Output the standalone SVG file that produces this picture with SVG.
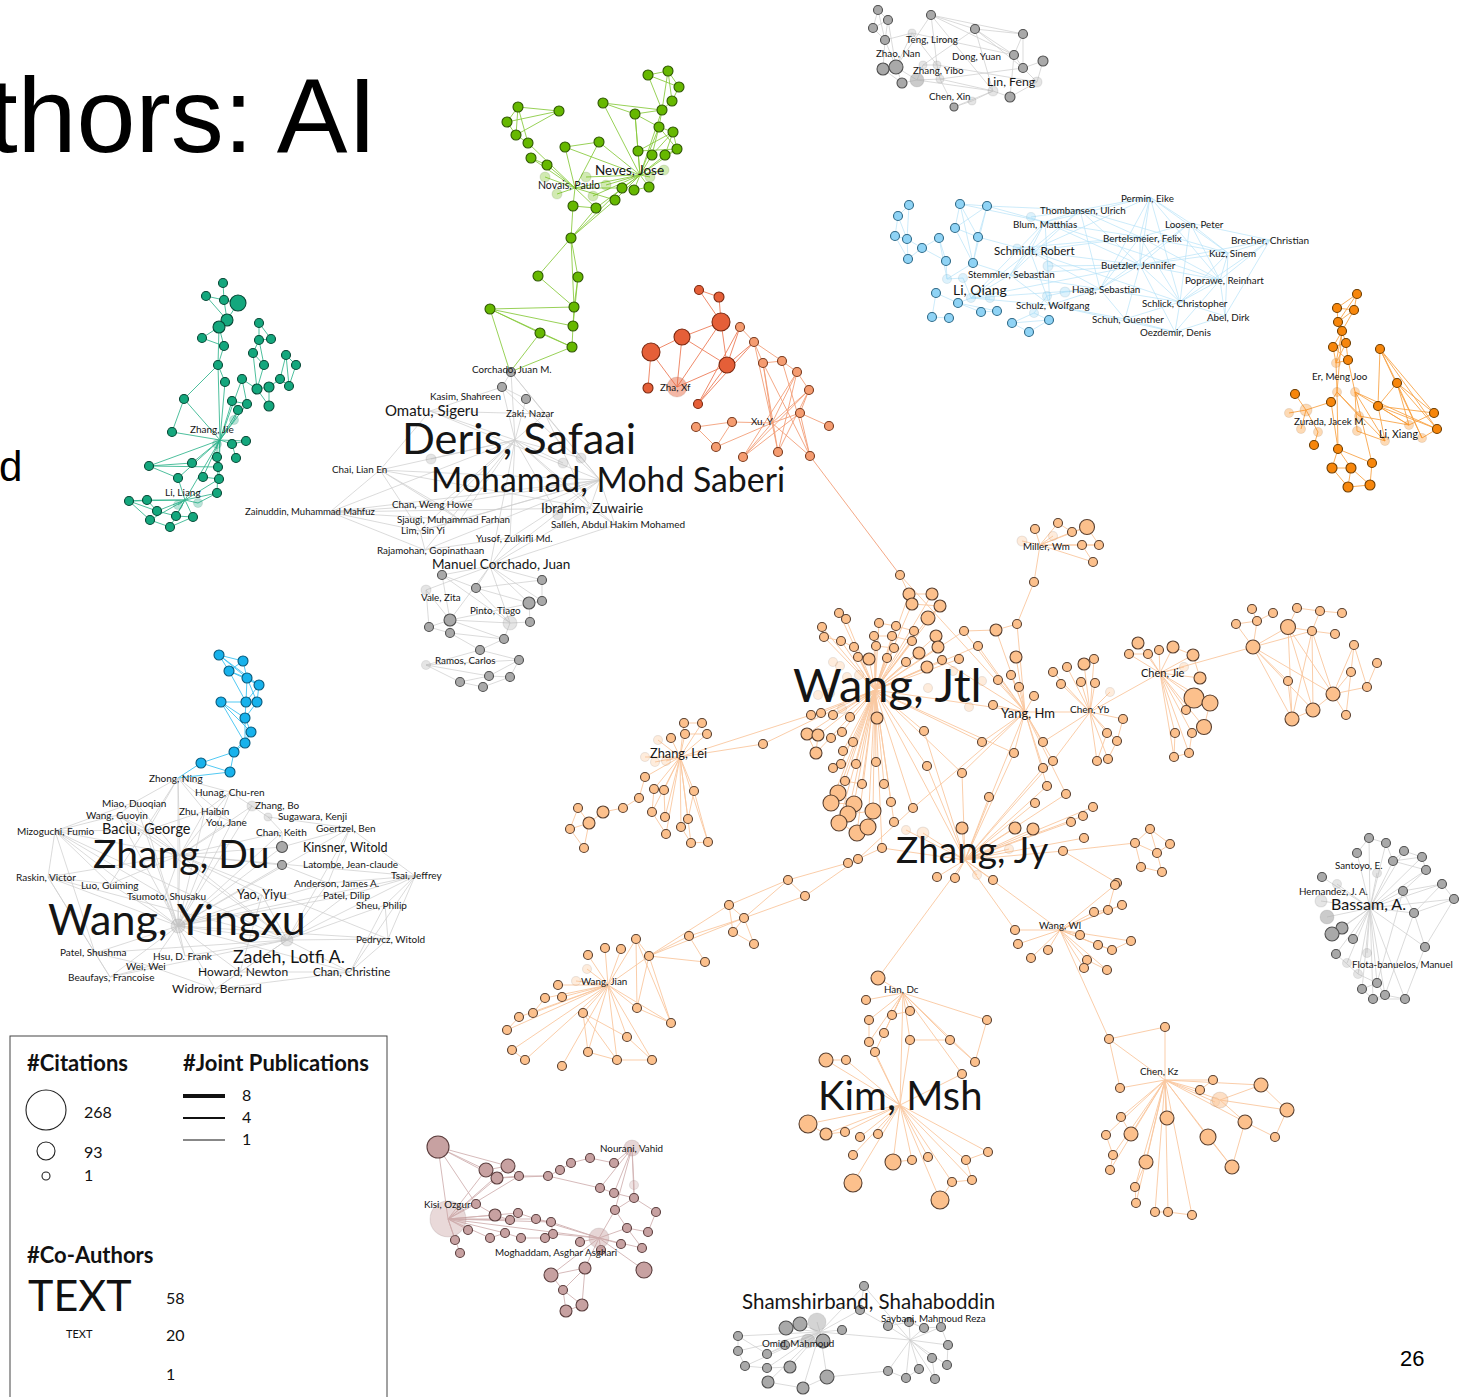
<svg xmlns="http://www.w3.org/2000/svg" width="1460" height="1397" viewBox="0 0 1460 1397">
<style>
.e{fill:none;stroke-width:1}
.eG{stroke:#86c93a;opacity:.85}
.eT{stroke:#2fb48c;opacity:.85}
.eR{stroke:#ec7550;opacity:.85}
.eO{stroke:#f29a72;opacity:.85}
.eP{stroke:#f9c8a0;opacity:.9}
.eK{stroke:#cfcfcf;opacity:.75}
.eB{stroke:#3fc3f2;opacity:.9}
.eL{stroke:#b6e2f8;opacity:.7}
.eY{stroke:#f8a040;opacity:.85}
.eM{stroke:#d2b2b2;opacity:.9}
circle{stroke-width:1.1}
.G circle{fill:#66b800;stroke:#2d5500}
.T circle{fill:#14a77d;stroke:#074836}
.R circle{fill:#e55f38;stroke:#7a2810}
.O circle{fill:#f59c70;stroke:#7a3a1e}
.P circle{fill:#fcc08c;stroke:#5a4030}
.K circle{fill:#a9a9a9;stroke:#505050}
.B circle{fill:#17b2ec;stroke:#07587a}
.L circle{fill:#8fd3f5;stroke:#2f6a88}
.Y circle{fill:#f7860b;stroke:#6e3d00}
.M circle{fill:#c7a1a1;stroke:#5c3f3f}
circle.f{fill-opacity:.3;stroke-opacity:.12}
.t{font-family:Lato,"Open Sans","Liberation Sans",sans-serif;fill:#151515;font-size:10px}
.s{font-size:9.8px}
.h{font-family:"Liberation Sans",Arial,sans-serif;fill:#000}
.lg{font-family:Lato,"Open Sans","Liberation Sans",sans-serif;fill:#111}
.lb{font-weight:bold;font-size:22px}
.ln{font-size:16px}
</style>

<!-- title fragments -->
<text class="h" x="377" y="152" font-size="106" text-anchor="end">thors: AI</text>
<text class="h" x="-1" y="481" font-size="42">d</text>
<text class="h" x="1400" y="1366" font-size="22">26</text>

<g id="connectors">
<path class="e eG" d="M648 75L668 71M648 75L679 87M668 71L679 87M668 71L672 101M679 87L672 101M672 101L662 110M648 75L662 110M668 71L662 110M662 110L635 114M603 103L635 114M603 103L662 110M635 114L659 127M662 110L659 127M659 127L673 132M673 132L677 149M659 127L677 149M673 132L665 155M677 149L665 155M673 132L652 155M677 149L638 151M673 132L638 151M659 127L652 155M635 114L638 151M603 103L640 175M635 114L640 175M659 127L640 175M652 155L640 175M638 151L640 175M665 155L640 175M677 149L640 175M662 110L640 175M518 107L559 111M518 107L507 122M518 107L516 135M507 122L516 135M559 111L507 122M559 111L516 135M516 135L528 143M518 107L528 143M528 143L575 188M531 158L575 188M547 165L575 188M565 147L599 142M565 147L575 188M599 142L575 188M599 142L640 175M531 158L547 165M565 147L640 175M575 188L640 175M575 188L622 188M575 188L615 200M575 188L573 206M575 188L596 208M640 175L622 188M640 175L615 200M640 175L634 190M640 175L649 187M640 175L596 208M634 190L649 187M573 206L596 208M573 206L571 238M596 208L571 238M615 200L571 238M622 188L571 238M571 238L538 276M571 238L578 277M571 238L574 307M538 276L574 307M578 277L574 307M578 277L573 326M574 307L573 326M574 307L490 309M490 309L573 326M490 309L540 333M490 309L572 347M573 326L572 347M540 333L572 347M490 309L510 372M572 347L510 372M540 333L510 372M575 188L545 177M575 188L557 194M640 175L586 177M640 175L606 185M640 175L593 196M640 175L664 170M640 175L650 177"/>
<path class="e eT" d="M223 283L224 300M206 296L224 300M206 296L227 320M224 300L238 303M224 300L227 320M238 303L227 320M227 320L219 327M219 327L202 338M219 327L224 346M202 338L224 346M219 327L218 365M224 346L218 365M218 365L225 382M218 365L184 399M184 399L172 432M184 399L220 440M225 382L220 440M218 365L220 440M172 432L220 440M259 323L259 340M259 323L271 339M259 340L271 339M259 340L253 353M253 353L264 365M259 340L264 365M286 355L296 365M286 355L280 379M296 365L289 386M286 355L289 386M280 379L289 386M269 387L280 379M257 389L269 387M264 365L257 389M253 353L257 389M242 379L257 389M269 387L269 406M257 389L269 406M242 379L247 404M247 404L232 401M232 401L238 410M238 410L234 420M234 420L220 440M242 379L220 440M247 404L220 440M232 401L220 440M238 410L220 440M217 444L220 440M232 444L220 440M246 441L220 440M232 444L246 441M232 444L236 458M217 444L217 457M220 440L192 463M220 440L149 466M220 440L178 478M220 440L203 477M220 440L219 479M220 440L218 467M192 463L149 466M149 466L218 467M149 466L178 478M203 477L219 479M218 467L217 493M178 478L185 500M217 493L185 500M219 479L185 500M185 500L129 501M185 500L147 500M185 500L157 511M185 500L178 505M185 500L198 503M185 500L176 516M185 500L193 517M185 500L150 520M185 500L170 527M129 501L147 500M147 500L157 511M157 511L176 516M176 516L193 517M150 520L170 527M170 527L193 517M129 501L150 520M217 493L198 503M220 440L185 500M129 501L157 511"/>
<path class="e eR" d="M699 290L719 297M719 297L721 322M721 322L682 337M682 337L651 352M651 352L648 388M651 352L677 387M682 337L677 387M721 322L677 387M721 322L727 365M682 337L727 365M727 365L677 387M727 365L698 404M740 327L698 404M740 327L727 365M754 342L727 365M754 342L698 404M699 290L721 322"/>
<path class="e eO" d="M740 327L754 342M754 342L763 363M754 342L782 361M763 363L782 361M754 342L772 423M763 363L772 423M763 363L778 452M782 361L797 372M782 361L810 456M797 372L809 390M797 372L743 457M809 390L800 413M809 390L743 457M809 390L778 452M809 390L772 423M800 413L772 423M800 413L743 457M800 413L810 456M800 413L829 426M797 372L772 423M810 456L772 423M778 452L772 423M743 457L772 423M732 422L772 423M696 427L732 422M696 427L716 447M716 447L732 422M716 447L772 423M763 363L810 456M797 372L778 452M810 456L900 575"/>
<path class="e eK" d="M515 440L511 372M515 440L502 387M515 440L526 399M515 440L430 411M515 440L545 414M515 440L380 470M515 440L330 512M515 440L440 505M515 440L590 508M515 440L460 520M515 440L615 525M515 440L420 531M515 440L510 538M515 440L425 550M515 440L490 566M515 440L431 459M515 440L563 463M515 440L581 458M515 440L558 515M600 480L511 372M600 480L502 387M600 480L430 411M600 480L545 414M600 480L380 470M600 480L330 512M600 480L440 505M600 480L590 508M600 480L460 520M600 480L615 525M600 480L420 531M600 480L510 538M600 480L425 550M600 480L490 566M380 470L330 512M380 470L440 505M380 470L460 520M380 470L420 531M330 512L440 505M330 512L460 520M330 512L420 531M330 512L425 550M440 505L460 520M460 520L420 531M420 531L425 550M425 550L510 538M510 538L490 566M590 508L615 525M615 525L490 566M590 508L490 566M511 372L502 387M502 387L526 399M502 387L430 411M430 411L380 470M380 470L590 508M330 512L590 508M511 372L545 414M545 414L590 508M430 411L545 414M490 566L442 575M490 566L476 588M490 566L542 580M490 566L426 590M490 566L529 603M490 566L542 601M490 566L450 620M490 566L510 623M442 575L476 588M442 575L450 620M476 588L542 580M476 588L529 603M476 588L510 623M542 580L542 601M529 603L542 601M529 603L530 622M426 590L450 620M426 590L429 627M450 620L429 627M450 620L510 623M450 620L504 639M450 620L450 633M429 627L450 633M450 633L480 650M450 633L504 639M504 639L480 650M510 623L530 622M510 623L504 639M480 650L426 665M480 650L519 660M426 665L460 682M426 665L489 676M460 682L489 676M489 676L519 660M460 682L483 687M483 687L510 677M510 677L519 660M489 676L510 677M426 665L519 660M450 620L542 601M442 575L510 623"/>
<path class="e eB" d="M219 655L243 661M219 655L229 671M219 655L247 678M219 655L259 685M243 661L229 671M243 661L247 678M229 671L247 678M229 671L259 685M247 678L259 685M229 671L246 702M247 678L246 702M247 678L257 702M259 685L257 702M259 685L246 702M246 702L257 702M221 702L246 702M221 702L245 718M221 702L251 732M221 702L245 743M246 702L245 718M257 702L245 718M245 718L251 732M251 732L245 743M245 718L245 743M245 743L234 752M251 732L234 752M234 752L201 763M234 752L230 772M201 763L230 772M201 763L178 778M230 772L178 778"/>
<path class="e eK" d="M178 778L230 792M178 778L135 802M178 778L205 811M178 778L180 855M178 778L178 926M178 778L148 830M178 778L232 822M178 778L110 884M230 792L252 806M230 792L205 811M230 792L180 855M230 792L178 926M135 802L118 815M135 802L180 855M135 802L178 926M118 815L148 830M118 815L180 855M118 815L178 926M55 831L148 830M55 831L180 855M55 831L178 926M55 831L48 877M55 831L110 884M55 831L165 896M55 831L95 953M48 877L180 855M48 877L178 926M48 877L110 884M48 877L95 953M48 877L110 977M148 830L180 855M148 830L178 926M205 811L232 822M205 811L180 855M205 811L178 926M232 822L180 855M232 822L178 926M252 806L268 817M252 806L178 926M252 806L180 855M268 817L282 832M268 817L350 828M282 832L282 847M282 832L180 855M282 832L178 926M350 828L282 847M350 828L328 883M350 828L415 876M350 828L178 926M350 828L287 940M282 847L180 855M282 847L178 926M282 865L178 926M282 865L180 855M282 865L328 883M415 876L328 883M415 876L345 896M415 876L385 905M415 876L388 939M415 876L287 940M415 876L178 926M415 876L350 972M328 883L178 926M328 883L287 940M345 896L178 926M345 896L287 940M385 905L287 940M385 905L388 939M385 905L350 972M388 939L287 940M388 939L350 972M388 939L178 926M262 895L178 926M262 895L180 855M262 895L287 940M262 895L240 972M110 884L180 855M110 884L178 926M165 896L180 855M165 896L178 926M165 896L185 956M95 953L178 926M95 953L150 966M95 953L110 977M185 956L178 926M185 956L287 940M150 966L178 926M150 966L110 977M150 966L215 989M240 972L178 926M240 972L287 940M240 972L350 972M240 972L215 989M350 972L287 940M350 972L178 926M110 977L178 926M215 989L178 926M215 989L287 940M215 989L350 972M180 855L178 926M180 855L287 940M178 926L287 940M148 830L205 811M55 831L118 815M55 831L135 802M95 953L287 940M48 877L287 940M55 831L287 940M118 815L287 940M415 876L180 855M388 939L180 855M110 977L287 940"/>
<path class="e eK" d="M878 10L873 28M878 10L888 20M878 10L885 40M873 28L888 20M873 28L885 40M888 20L885 40M885 40L883 69M885 40L896 67M888 20L896 67M931 15L975 29M931 15L1023 34M931 15L1014 55M975 29L1023 34M975 29L1014 55M1023 34L1014 55M931 15L993 91M931 15L937 65M975 29L993 91M975 29L1023 68M1023 34L1023 68M1014 55L1023 68M1014 55L1010 97M1023 68L1043 61M1023 68L1037 82M1043 61L1037 82M1037 82L1010 97M993 91L1010 97M883 69L896 67M883 69L902 83M896 67L902 83M896 67L917 80M902 83L917 80M917 80L923 65M923 65L937 65M917 80L940 79M937 65L940 79M940 79L993 91M940 79L954 107M954 107L972 101M993 91L972 101M912 33L896 67M912 33L937 65M885 40L912 33M917 80L993 91M937 65L1037 82M923 65L975 29M931 15L896 67M912 33L1014 55M940 79L1023 68M954 107L993 91"/>
<path class="e eL" d="M909 205L898 216M909 205L907 239M898 216L895 236M898 216L907 239M895 236L907 239M907 239L908 259M895 236L908 259M907 239L922 248M908 259L922 248M922 248L939 238M922 248L946 261M939 238L946 261M946 261L947 279M960 204L987 206M960 204L955 228M960 204L978 237M987 206L955 228M987 206L978 237M955 228L978 237M960 204L973 263M987 206L973 263M955 228L973 263M978 237L973 263M973 263L947 279M947 279L963 278M936 293L958 303M958 303L971 298M936 293L932 317M932 317L949 318M958 303L981 312M958 303L997 311M971 298L990 298M981 312L997 311M1012 323L1029 332M1029 332L1049 320M1012 323L1049 320M1049 320L1034 313M1012 323L1034 313M1034 313L1047 296M1047 296L1065 292M939 238L947 279M963 278L971 298M971 298L1030 251M971 298L1010 275M971 298L1100 289M971 298L1050 305M971 298L1045 222M971 298L1140 265M973 263L1010 275M987 206L1045 222M987 206L1080 210M978 237L1030 251M960 204L1045 222M1150 197L1080 210M1150 197L1045 222M1150 197L1190 223M1150 197L1140 237M1150 197L1030 251M1150 197L1228 253M1150 197L1140 265M1150 197L1220 280M1150 197L1100 289M1150 197L1180 302M1080 210L1045 222M1080 210L1140 237M1080 210L1030 251M1080 210L1140 265M1080 210L1010 275M1080 210L1100 289M1045 222L1140 237M1045 222L1030 251M1045 222L1140 265M1045 222L1010 275M1045 222L1050 305M1190 223L1140 237M1190 223L1270 240M1190 223L1228 253M1190 223L1140 265M1190 223L1220 280M1190 223L1180 302M1140 237L1030 251M1140 237L1228 253M1140 237L1140 265M1140 237L1220 280M1140 237L1100 289M1140 237L1180 302M1270 240L1228 253M1270 240L1220 280M1270 240L1225 316M1270 240L1180 302M1030 251L1140 265M1030 251L1010 275M1030 251L1100 289M1030 251L1050 305M1228 253L1140 265M1228 253L1220 280M1228 253L1180 302M1228 253L1225 316M1140 265L1220 280M1140 265L1100 289M1140 265L1180 302M1140 265L1125 319M1140 265L1175 332M1010 275L1100 289M1010 275L1050 305M1220 280L1180 302M1220 280L1225 316M1220 280L1175 332M1100 289L1050 305M1100 289L1125 319M1100 289L1180 302M1180 302L1225 316M1180 302L1125 319M1180 302L1175 332M1050 305L1125 319M1225 316L1175 332M1125 319L1175 332M1080 210L1228 253M1045 222L1220 280M1030 251L1180 302M1010 275L1140 265M1190 223L1100 289M1270 240L1140 265M1050 305L1175 332M1065 292L1100 289M1048 266L1140 265M1031 217L1080 210M1017 248L1140 237"/>
<path class="e eY" d="M1357 294L1337 308M1357 294L1354 310M1337 308L1354 310M1357 294L1338 322M1354 310L1338 322M1337 308L1338 322M1338 322L1342 331M1354 310L1342 331M1342 331L1333 347M1342 331L1346 343M1333 347L1346 343M1342 331L1336 363M1346 343L1348 360M1333 347L1348 360M1336 363L1348 360M1333 347L1336 363M1346 343L1336 363M1336 363L1337 392M1348 360L1355 392M1342 331L1337 392M1380 349L1397 383M1380 349L1378 406M1380 349L1434 413M1380 349L1437 429M1397 383L1378 406M1397 383L1434 413M1397 383L1437 429M1397 383L1409 425M1378 406L1434 413M1378 406L1437 429M1378 406L1385 441M1397 383L1422 438M1380 349L1422 438M1409 425L1434 413M1437 429L1422 438M1337 392L1331 402M1337 392L1385 441M1355 392L1385 441M1355 392L1409 425M1331 402L1338 449M1337 392L1338 449M1355 392L1357 431M1295 394L1306 410M1289 413L1306 410M1306 410L1318 432M1301 429L1306 410M1314 445L1318 432M1306 410L1331 402M1355 392L1437 429M1359 416L1409 425M1357 431L1385 441M1337 392L1359 416M1378 406L1409 425M1338 449L1372 463M1338 449L1332 468M1338 449L1351 468M1332 468L1351 468M1332 468L1348 487M1351 468L1348 487M1351 468L1370 485M1348 487L1370 485M1372 463L1370 485M1355 392L1372 463"/>
<path class="e eP" d="M875 690L909 594M875 690L932 594M875 690L912 604M875 690L940 606M875 690L928 618M875 690L839 613M875 690L846 619M875 690L822 627M875 690L824 637M875 690L841 641M875 690L854 647M875 690L858 657M875 690L869 659M875 690L879 623M875 690L896 626M875 690L914 631M875 690L874 636M875 690L892 636M875 690L912 641M875 690L876 646M875 690L894 648M875 690L936 636M875 690L938 647M875 690L919 653M875 690L887 658M875 690L906 662M875 690L927 667M875 690L942 660M875 690L964 631M875 690L978 646M875 690L877 718M875 690L924 731M875 690L850 717M875 690L842 732M875 690L843 751M875 690L853 742M875 690L856 764M875 690L841 764M875 690L876 762M875 690L884 784M875 690L927 766M875 690L862 784M875 690L845 781M875 690L891 802M875 690L913 808M875 690L959 659M875 690L982 742M875 690L1014 753M875 690L821 713M875 690L811 715M875 690L833 715M875 690L818 735M875 690L807 734M875 690L816 753M875 690L962 773M875 690L1025 712M875 690L965 860M875 690L838 793M875 690L854 804M875 690L873 811M875 690L868 827M875 690L857 833M875 690L848 814M875 690L831 803M875 690L839 823M875 690L894 822M875 690L882 848M875 690L763 744M839 613L846 619M822 627L824 637M824 637L841 641M841 641L854 647M854 647L858 657M858 657L869 659M879 623L896 626M896 626L914 631M874 636L892 636M892 636L912 641M876 646L894 648M909 594L932 594M909 594L912 604M912 604L940 606M932 594L940 606M928 618L940 606M900 575L909 594M900 575L1025 712M936 636L938 647M807 734L818 735M818 735L816 753M807 734L816 753M838 793L831 803M831 803L854 804M854 804L848 814M848 814L873 811M839 823L857 833M857 833L868 827M868 827L873 811M838 793L854 804M845 781L862 784M842 732L831 738M843 751L853 742M1025 712L1017 624M1025 712L1016 657M1025 712L998 680M1025 712L1011 675M1025 712L1019 687M1025 712L1034 696M1025 712L993 705M1025 712L982 742M1025 712L1014 753M1025 712L1043 742M1025 712L1053 761M1025 712L1043 768M1025 712L962 773M1025 712L913 808M1025 712L964 631M1025 712L978 646M1025 712L942 660M1025 712L1047 786M1025 712L1066 794M1025 712L1090 712M1025 712L996 630M1017 624L996 630M996 630L964 631M1034 582L1017 624M1034 582L1040 545M965 860L962 828M965 860L923 833M965 860L906 830M965 860L1015 828M965 860L1033 829M965 860L1009 849M965 860L937 877M965 860L955 878M965 860L977 875M965 860L993 880M965 860L989 797M965 860L1035 803M965 860L1063 851M965 860L1084 838M965 860L1071 822M965 860L1083 816M965 860L1093 807M965 860L1047 786M965 860L1043 768M965 860L924 731M965 860L927 766M965 860L1014 753M965 860L1053 761M965 860L882 848M965 860L1025 712M965 860L962 773M965 860L1066 794M965 860L1015 930M965 860L1060 930M965 860L878 978M1063 851L1135 843M1135 843L1150 829M1135 843L1157 853M1150 829L1170 844M1157 853L1170 844M1135 843L1141 867M1157 853L1162 872M1141 867L1162 872M1150 829L1157 853M1063 851L1117 883M1060 930L1015 930M1060 930L1018 944M1060 930L1048 950M1060 930L1031 958M1060 930L1080 935M1060 930L1094 912M1060 930L1108 910M1060 930L1115 885M1060 930L1122 905M1060 930L1131 941M1060 930L1098 945M1060 930L1087 960M1060 930L1107 970M1060 930L1112 950M1060 930L1084 968M1060 930L1109 1039M1094 912L1108 910M1108 910L1115 885M1108 910L1122 905M1098 945L1112 950M1112 950L1131 941M1087 960L1107 970M1084 968L1087 960M1040 545L1035 529M1040 545L1058 523M1040 545L1072 532M1040 545L1087 527M1040 545L1053 536M1040 545L1022 541M1040 545L1082 545M1040 545L1099 545M1040 545L1093 562M1058 523L1072 532M1072 532L1087 527M1087 527L1099 545M1082 545L1099 545M1082 545L1093 562M1090 712L1053 672M1090 712L1067 667M1090 712L1084 664M1090 712L1094 659M1090 712L1061 684M1090 712L1081 682M1090 712L1095 683M1090 712L1110 692M1090 712L1123 719M1090 712L1107 733M1090 712L1117 741M1090 712L1097 761M1090 712L1108 759M1090 712L1160 673M1090 712L1043 742M1090 712L1053 761M1123 719L1117 741M1107 733L1097 761M1117 741L1108 759M1160 673L1138 643M1160 673L1129 654M1160 673L1148 654M1160 673L1159 650M1160 673L1173 647M1160 673L1193 655M1160 673L1184 667M1160 673L1200 678M1160 673L1194 698M1160 673L1210 703M1160 673L1186 710M1160 673L1204 727M1160 673L1175 733M1160 673L1192 733M1160 673L1174 757M1160 673L1189 753M1160 673L1253 647M1173 647L1193 655M1193 655L1200 678M1194 698L1210 703M1204 727L1210 703M1175 733L1174 757M1192 733L1189 753M1174 757L1189 753M1129 654L1148 654M1253 647L1236 624M1253 647L1257 621M1253 647L1288 627M1253 647L1312 631M1253 647L1288 681M1253 647L1292 719M1253 647L1313 710M1253 647L1333 694M1288 627L1297 608M1288 627L1312 631M1288 627L1292 719M1288 627L1313 710M1288 627L1333 694M1312 631L1320 611M1312 631L1335 634M1312 631L1292 719M1312 631L1313 710M1312 631L1333 694M1297 608L1320 611M1320 611L1342 613M1236 624L1257 621M1257 621L1273 613M1252 609L1257 621M1333 694L1354 645M1333 694L1351 672M1333 694L1367 687M1333 694L1346 715M1333 694L1313 710M1354 645L1351 672M1354 645L1367 687M1351 672L1346 715M1367 687L1377 663M1313 710L1292 719M1288 681L1292 719M680 757L684 723M680 757L702 723M680 757L685 734M680 757L707 734M680 757L671 738M680 757L658 740M680 757L645 757M680 757L655 762M680 757L666 761M680 757L645 777M680 757L654 789M680 757L664 790M680 757L694 791M680 757L652 812M680 757L665 817M680 757L688 819M680 757L681 827M680 757L666 834M680 757L691 843M680 757L708 842M680 757L763 744M680 757L811 715M684 723L702 723M685 734L707 734M645 777L639 798M639 798L623 808M623 808L603 812M603 812L589 823M589 823L578 808M589 823L570 829M589 823L584 848M578 808L570 829M570 829L584 848M654 789L652 812M652 812L666 834M664 790L665 817M694 791L688 819M688 819L681 827M681 827L691 843M691 843L708 842M694 791L708 842M913 808L858 859M882 848L858 859M858 859L848 863M848 863L788 880M858 859L805 896M788 880L805 896M788 880L744 918M805 896L744 918M788 880L729 905M744 918L729 905M744 918L733 932M744 918L754 944M729 905L733 932M733 932L754 944M744 918L689 936M744 918L649 956M729 905L649 956M689 936L705 962M705 962L649 956M689 936L649 956M649 956L636 939M649 956L608 985M649 956L637 1008M649 956L671 1023M636 939L637 1008M636 939L671 1023M608 985L636 939M608 985L621 949M608 985L605 948M608 985L588 955M608 985L587 969M608 985L576 981M608 985L637 1008M608 985L671 1023M608 985L583 1013M608 985L627 1037M608 985L588 1052M608 985L617 1060M608 985L652 1060M608 985L562 997M608 985L562 1066M608 985L558 985M608 985L545 998M608 985L533 1013M608 985L519 1017M608 985L507 1030M608 985L512 1050M608 985L525 1060M583 1013L588 1052M583 1013L617 1060M583 1013L627 1037M627 1037L652 1060M588 1052L617 1060M617 1060L652 1060M637 1008L671 1023M512 1050L525 1060M507 1030L519 1017M545 998L533 1013M903 993L878 978M903 993L866 1000M903 993L869 1020M903 993L892 1015M903 993L910 1011M903 993L884 1033M903 993L869 1042M903 993L875 1052M903 993L910 1040M903 993L950 1040M903 993L975 1062M903 993L987 1020M903 993L962 1074M903 993L900 1105M869 1020L869 1042M892 1015L910 1011M910 1040L950 1040M950 1040L975 1062M987 1020L975 1062M900 1105L826 1060M900 1105L846 1060M900 1105L808 1124M900 1105L826 1134M900 1105L845 1132M900 1105L860 1137M900 1105L878 1134M900 1105L853 1155M900 1105L893 1162M900 1105L912 1160M900 1105L928 1157M900 1105L853 1183M900 1105L940 1200M900 1105L952 1182M900 1105L966 1160M900 1105L972 1180M900 1105L988 1152M900 1105L962 1074M900 1105L875 1052M900 1105L869 1042M900 1105L910 1040M826 1060L846 1060M808 1124L826 1134M826 1134L845 1132M893 1162L912 1160M966 1160L988 1152M966 1160L972 1180M952 1182L972 1180M940 1200L952 1182M1165 1080L1109 1039M1165 1080L1165 1027M1165 1080L1120 1088M1165 1080L1213 1080M1165 1080L1200 1090M1165 1080L1215 1102M1165 1080L1220 1100M1165 1080L1261 1085M1165 1080L1245 1122M1165 1080L1167 1118M1165 1080L1121 1117M1165 1080L1131 1134M1165 1080L1106 1135M1165 1080L1113 1155M1165 1080L1146 1162M1165 1080L1110 1170M1165 1080L1208 1137M1165 1080L1232 1167M1165 1080L1135 1187M1165 1080L1136 1203M1165 1080L1155 1212M1165 1080L1168 1212M1165 1080L1192 1215M1109 1039L1165 1027M1109 1039L1120 1088M1220 1100L1261 1085M1220 1100L1287 1110M1220 1100L1245 1122M1245 1122L1275 1137M1261 1085L1287 1110M1287 1110L1275 1137M1208 1137L1232 1167M1245 1122L1232 1167M1121 1117L1131 1134M1106 1135L1113 1155M1110 1170L1113 1155M1135 1187L1136 1203M1155 1212L1168 1212M1146 1162L1135 1187M1168 1212L1192 1215M1213 1080L1200 1090"/>
<path class="e eM" d="M438 1147L486 1170M438 1147L497 1178M438 1147L508 1166M438 1147L448 1219M438 1147L476 1204M448 1219L486 1170M448 1219L497 1178M448 1219L508 1166M448 1219L455 1240M448 1219L460 1253M448 1219L476 1204M448 1219L495 1215M448 1219L510 1220M448 1219L518 1213M448 1219L536 1219M448 1219L551 1222M448 1219L490 1238M448 1219L505 1233M448 1219L468 1230M448 1219L519 1176M448 1219L599 1238M486 1170L508 1166M508 1166L519 1176M497 1178L519 1176M519 1176L548 1176M548 1176L560 1170M560 1170L571 1163M571 1163L590 1158M590 1158L614 1163M614 1163L632 1148M632 1148L600 1188M632 1148L614 1193M632 1148L634 1185M632 1148L634 1198M632 1148L615 1210M600 1188L614 1193M614 1193L634 1198M634 1185L634 1198M634 1198L615 1210M634 1198L656 1212M615 1210L627 1228M627 1228L648 1232M648 1232L656 1212M627 1228L642 1248M599 1238L615 1210M599 1238L621 1244M599 1238L580 1242M599 1238L601 1250M599 1238L585 1268M599 1238L551 1275M599 1238L627 1228M599 1238L642 1248M599 1238L644 1270M585 1268L551 1275M585 1268L563 1290M551 1275L563 1290M563 1290L566 1311M563 1290L582 1305M566 1311L582 1305M585 1268L582 1305M495 1215L510 1220M510 1220L518 1213M518 1213L536 1219M536 1219L551 1222M551 1222L553 1234M553 1234L545 1238M545 1238L521 1238M521 1238L505 1233M505 1233L490 1238M599 1238L551 1222M599 1238L553 1234M599 1238L536 1219M497 1178L548 1176M476 1204L495 1215M600 1188L548 1176"/>
<path class="e eK" d="M820 1332L864 1286M820 1332L860 1310M820 1332L817 1322M820 1332L800 1324M820 1332L786 1328M820 1332L842 1330M820 1332L808 1341M820 1332L823 1341M820 1332L785 1345M820 1332L767 1354M820 1332L738 1336M820 1332L738 1351M820 1332L745 1366M820 1332L767 1368M820 1332L790 1367M820 1332L827 1377M820 1332L803 1388M820 1332L768 1382M820 1332L910 1340M864 1286L860 1310M864 1286L910 1340M860 1310L888 1326M910 1340L888 1326M910 1340L909 1322M910 1340L924 1328M910 1340L941 1327M910 1340L948 1345M910 1340L932 1358M910 1340L919 1369M910 1340L947 1365M910 1340L935 1379M910 1340L906 1378M910 1340L888 1371M888 1326L909 1322M909 1322L924 1328M924 1328L941 1327M941 1327L948 1345M948 1345L947 1365M932 1358L935 1379M919 1369L906 1378M906 1378L888 1371M888 1371L827 1377M767 1354L738 1336M738 1336L738 1351M738 1351L745 1366M745 1366L767 1368M767 1368L790 1367M785 1345L767 1354M827 1377L803 1388M803 1388L768 1382M800 1324L786 1328"/>
<path class="e eK" d="M1370 908L1369 838M1370 908L1386 843M1370 908L1357 853M1370 908L1404 851M1370 908L1393 861M1370 908L1422 857M1370 908L1426 870M1370 908L1377 873M1370 908L1322 877M1370 908L1337 884M1370 908L1442 884M1370 908L1403 891M1370 908L1454 899M1370 908L1321 901M1370 908L1414 913M1370 908L1327 917M1370 908L1342 928M1370 908L1332 934M1370 908L1353 939M1370 908L1425 947M1370 908L1336 954M1370 908L1367 953M1370 908L1347 963M1370 908L1358 974M1370 908L1377 983M1370 908L1362 989M1370 908L1385 995M1370 908L1373 999M1370 908L1405 999M1369 838L1386 843M1369 838L1357 853M1386 843L1393 861M1404 851L1393 861M1404 851L1422 857M1393 861L1422 857M1422 857L1426 870M1393 861L1426 870M1442 884L1403 891M1442 884L1454 899M1403 891L1414 913M1454 899L1414 913M1454 899L1425 947M1414 913L1425 947M1442 884L1414 913M1377 983L1362 989M1377 983L1385 995M1362 989L1373 999M1385 995L1373 999M1385 995L1405 999M1373 999L1405 999M1358 974L1377 983M1425 947L1405 999M1414 913L1385 995M1403 891L1377 983M1426 870L1403 891M1336 954L1358 974"/>
</g>

<g id="cluster-neves" class="G">
<circle cx="648" cy="75" r="5"/><circle cx="668" cy="71" r="5"/><circle cx="679" cy="87" r="5"/><circle cx="672" cy="101" r="5"/><circle cx="662" cy="110" r="5"/><circle cx="635" cy="114" r="5"/><circle cx="603" cy="103" r="5"/><circle cx="659" cy="127" r="5"/><circle cx="673" cy="132" r="5"/><circle cx="677" cy="149" r="5"/><circle cx="665" cy="155" r="5"/><circle cx="652" cy="155" r="5"/><circle cx="638" cy="151" r="5"/><circle cx="518" cy="107" r="5"/><circle cx="559" cy="111" r="5"/><circle cx="507" cy="122" r="5"/><circle cx="516" cy="135" r="5"/><circle cx="528" cy="143" r="5"/><circle cx="565" cy="147" r="5"/><circle cx="599" cy="142" r="5"/><circle cx="531" cy="158" r="5"/><circle cx="547" cy="165" r="5"/><circle cx="622" cy="188" r="5"/><circle cx="615" cy="200" r="5"/><circle cx="634" cy="190" r="5"/><circle cx="649" cy="187" r="5"/><circle cx="573" cy="206" r="5"/><circle cx="596" cy="208" r="5"/><circle cx="571" cy="238" r="5"/><circle cx="538" cy="276" r="5"/><circle cx="578" cy="277" r="5"/><circle cx="574" cy="307" r="5"/><circle cx="490" cy="309" r="5"/><circle cx="573" cy="326" r="5"/><circle cx="540" cy="333" r="5"/><circle cx="572" cy="347" r="5"/>
<circle class="f" cx="545" cy="177" r="5"/><circle class="f" cx="586" cy="177" r="5"/><circle class="f" cx="606" cy="185" r="5"/><circle class="f" cx="557" cy="194" r="5"/><circle class="f" cx="593" cy="196" r="5"/><circle class="f" cx="664" cy="170" r="5"/><circle class="f" cx="650" cy="177" r="5"/>
<g id="n-neves"><text class="t" x="595" y="175" style="font-size:13.5px">Neves, Jose</text></g>
<g id="n-novais"><text class="t" x="538" y="189" style="font-size:10.5px">Novais, Paulo</text></g>
</g>

<g id="cluster-zhangjie" class="T">
<circle cx="223" cy="283" r="4.5"/><circle cx="206" cy="296" r="4.5"/><circle cx="224" cy="300" r="4.5"/><circle cx="238" cy="303" r="8"/><circle cx="227" cy="320" r="6"/><circle cx="219" cy="327" r="6"/><circle cx="202" cy="338" r="4.5"/><circle cx="224" cy="346" r="4.5"/><circle cx="218" cy="365" r="4.5"/><circle cx="225" cy="382" r="4.5"/><circle cx="184" cy="399" r="4.5"/><circle cx="172" cy="432" r="4.5"/><circle cx="259" cy="323" r="4.5"/><circle cx="259" cy="340" r="4.5"/><circle cx="271" cy="339" r="4.5"/><circle cx="253" cy="353" r="4.5"/><circle cx="264" cy="365" r="4.5"/><circle cx="286" cy="355" r="4.5"/><circle cx="296" cy="365" r="4.5"/><circle cx="242" cy="379" r="4.5"/><circle cx="257" cy="389" r="5"/><circle cx="269" cy="387" r="5"/><circle cx="280" cy="379" r="4.5"/><circle cx="289" cy="386" r="4.5"/><circle cx="269" cy="406" r="5"/><circle cx="247" cy="404" r="4.5"/><circle cx="232" cy="401" r="4.5"/><circle cx="238" cy="410" r="4.5"/><circle cx="232" cy="444" r="4.5"/><circle cx="246" cy="441" r="4.5"/><circle cx="236" cy="458" r="4.5"/><circle cx="217" cy="457" r="4.5"/><circle cx="192" cy="463" r="4.5"/><circle cx="149" cy="466" r="4.5"/><circle cx="218" cy="467" r="4.5"/><circle cx="178" cy="478" r="4.5"/><circle cx="203" cy="477" r="4.5"/><circle cx="219" cy="479" r="4.5"/><circle cx="217" cy="493" r="4.5"/><circle cx="129" cy="501" r="4.5"/><circle cx="147" cy="500" r="4.5"/><circle cx="157" cy="511" r="4.5"/><circle cx="176" cy="516" r="4.5"/><circle cx="193" cy="517" r="4.5"/><circle cx="150" cy="520" r="4.5"/><circle cx="170" cy="527" r="4.5"/>
<circle class="f" cx="234" cy="420" r="4.5"/><circle class="f" cx="217" cy="444" r="4.5"/><circle class="f" cx="178" cy="505" r="4.5"/><circle class="f" cx="198" cy="503" r="4.5"/>
<g id="n-zhangjie"><text class="t" x="190" y="433">Zhang, Jie</text></g>
<g id="n-liliang"><text class="t" x="165" y="496">Li, Liang</text></g>
</g>

<g id="cluster-zhaxf" class="R">
<circle cx="699" cy="290" r="4.5"/><circle cx="719" cy="297" r="5"/><circle cx="721" cy="322" r="9"/><circle cx="682" cy="337" r="8"/><circle cx="651" cy="352" r="9"/><circle cx="727" cy="365" r="8"/><circle cx="648" cy="388" r="5"/><circle cx="698" cy="404" r="4.5"/>
<circle class="f" cx="677" cy="387" r="10" style="fill-opacity:.45"/>
<g id="n-zhaxf"><text class="t s" x="660" y="391">Zha, Xf</text></g>
</g>
<g id="cluster-xuy" class="O">
<circle cx="740" cy="327" r="4.5"/><circle cx="754" cy="342" r="4.5"/><circle cx="763" cy="363" r="4.5"/><circle cx="782" cy="361" r="4.5"/><circle cx="797" cy="372" r="4.5"/><circle cx="809" cy="390" r="4.5"/><circle cx="800" cy="413" r="4.5"/><circle cx="829" cy="426" r="4.5"/><circle cx="732" cy="422" r="4.5"/><circle cx="696" cy="427" r="4.5"/><circle cx="716" cy="447" r="4.5"/><circle cx="743" cy="457" r="4.5"/><circle cx="778" cy="452" r="4.5"/><circle cx="810" cy="456" r="4.5"/>
<g id="n-xuy"><text class="t s" x="751" y="425">Xu, Y</text></g>
</g>

<g id="cluster-deris" class="K">
<circle cx="511" cy="372" r="4.5"/><circle cx="502" cy="387" r="4.5"/><circle cx="526" cy="399" r="4.5"/>
<circle cx="442" cy="575" r="4.5"/><circle cx="476" cy="588" r="4.5"/><circle cx="542" cy="580" r="4.5"/><circle class="f" cx="426" cy="590" r="5"/><circle cx="529" cy="603" r="6"/><circle cx="542" cy="601" r="4.5"/><circle cx="450" cy="620" r="6"/><circle cx="429" cy="627" r="4.5"/><circle class="f" cx="510" cy="623" r="7"/><circle cx="530" cy="622" r="4.5"/><circle cx="450" cy="633" r="4.5"/><circle cx="504" cy="639" r="4.5"/><circle cx="480" cy="650" r="4.5"/><circle cx="519" cy="660" r="4.5"/><circle class="f" cx="426" cy="665" r="4.5"/><circle cx="460" cy="682" r="4.5"/><circle cx="489" cy="676" r="4.5"/><circle cx="510" cy="677" r="4.5"/><circle cx="483" cy="687" r="4.5"/>
<circle class="f" cx="431" cy="459" r="5"/><circle class="f" cx="563" cy="463" r="5"/><circle class="f" cx="581" cy="458" r="5"/><circle class="f" cx="558" cy="515" r="5"/>
<g id="n-corchadojm"><text class="t s" x="472" y="373">Corchado, Juan M.</text></g>
<g id="n-kasim"><text class="t s" x="430" y="400">Kasim, Shahreen</text></g>
<g id="n-omatu"><text class="t" x="385" y="416" style="font-size:15px">Omatu, Sigeru</text></g>
<g id="n-zaki"><text class="t s" x="506" y="417">Zaki, Nazar</text></g>
<g id="n-deris"><text class="t" x="402" y="454" style="font-size:43.3px">Deris, Safaai</text></g>
<g id="n-chai"><text class="t s" x="332" y="473">Chai, Lian En</text></g>
<g id="n-mohamad"><text class="t" x="431" y="492" style="font-size:33.8px">Mohamad, Mohd Saberi</text></g>
<g id="n-zainuddin"><text class="t" x="245" y="515" style="font-size:9.5px">Zainuddin, Muhammad Mahfuz</text></g>
<g id="n-chanwh"><text class="t s" x="392" y="508">Chan, Weng Howe</text></g>
<g id="n-ibrahim"><text class="t" x="541" y="513" style="font-size:13.5px">Ibrahim, Zuwairie</text></g>
<g id="n-sjaugi"><text class="t s" x="397" y="523">Sjaugi, Muhammad Farhan</text></g>
<g id="n-salleh"><text class="t" x="551" y="528">Salleh, Abdul Hakim Mohamed</text></g>
<g id="n-lim"><text class="t s" x="401" y="534">Lim, Sin Yi</text></g>
<g id="n-yusof"><text class="t s" x="476" y="542">Yusof, Zulkifli Md.</text></g>
<g id="n-rajamohan"><text class="t s" x="377" y="554">Rajamohan, Gopinathaan</text></g>
<g id="n-manuel"><text class="t" x="432" y="569" style="font-size:13.5px">Manuel Corchado, Juan</text></g>
<g id="n-vale"><text class="t s" x="421" y="601">Vale, Zita</text></g>
<g id="n-pinto"><text class="t s" x="470" y="614">Pinto, Tiago</text></g>
<g id="n-ramos"><text class="t s" x="435" y="664">Ramos, Carlos</text></g>
</g>

<g id="cluster-zhongning" class="B">
<circle cx="219" cy="655" r="5"/><circle cx="243" cy="661" r="5"/><circle cx="229" cy="671" r="5"/><circle cx="247" cy="678" r="5"/><circle cx="259" cy="685" r="5"/><circle cx="221" cy="702" r="5"/><circle cx="246" cy="702" r="5"/><circle cx="257" cy="702" r="5"/><circle cx="245" cy="718" r="5"/><circle cx="251" cy="732" r="5"/><circle cx="245" cy="743" r="5"/><circle cx="234" cy="752" r="5"/><circle cx="201" cy="763" r="5"/><circle cx="230" cy="772" r="5"/>
</g>

<g id="cluster-zhangdu" class="K">
<circle cx="282" cy="847" r="5.5"/><circle cx="282" cy="865" r="4.5"/>
<circle class="f" cx="178" cy="926" r="7"/><circle class="f" cx="287" cy="940" r="6"/><circle class="f" cx="252" cy="806" r="5"/><circle class="f" cx="268" cy="817" r="4"/>
<g id="n-zhongning"><text class="t" x="149" y="782">Zhong, Ning</text></g>
<g id="n-hunag"><text class="t" x="195" y="796">Hunag, Chu-ren</text></g>
<g id="n-miao"><text class="t" x="102" y="807">Miao, Duoqian</text></g>
<g id="n-zhangbo"><text class="t" x="255" y="809">Zhang, Bo</text></g>
<g id="n-zhuhaibin"><text class="t" x="179" y="815">Zhu, Haibin</text></g>
<g id="n-wangguoyin"><text class="t" x="86" y="819">Wang, Guoyin</text></g>
<g id="n-sugawara"><text class="t" x="278" y="820">Sugawara, Kenji</text></g>
<g id="n-youjane"><text class="t" x="206" y="826">You, Jane</text></g>
<g id="n-mizoguchi"><text class="t" x="17" y="835">Mizoguchi, Fumio</text></g>
<g id="n-baciu"><text class="t" x="102" y="834" style="font-size:14.5px">Baciu, George</text></g>
<g id="n-chankeith"><text class="t" x="256" y="836">Chan, Keith</text></g>
<g id="n-goertzel"><text class="t" x="316" y="832">Goertzel, Ben</text></g>
<g id="n-zhangdu"><text class="t" x="93" y="868" style="font-size:39px">Zhang, Du</text></g>
<g id="n-kinsner"><text class="t" x="303" y="852" style="font-size:12.5px">Kinsner, Witold</text></g>
<g id="n-latombe"><text class="t" x="303" y="868">Latombe, Jean-claude</text></g>
<g id="n-raskin"><text class="t" x="16" y="881">Raskin, Victor</text></g>
<g id="n-tsai"><text class="t" x="391" y="879">Tsai, Jeffrey</text></g>
<g id="n-luo"><text class="t" x="81" y="889">Luo, Guiming</text></g>
<g id="n-anderson"><text class="t" x="294" y="887">Anderson, James A.</text></g>
<g id="n-tsumoto"><text class="t" x="127" y="900">Tsumoto, Shusaku</text></g>
<g id="n-yao"><text class="t" x="237" y="899" style="font-size:12.5px">Yao, Yiyu</text></g>
<g id="n-pateldilip"><text class="t" x="323" y="899">Patel, Dilip</text></g>
<g id="n-sheu"><text class="t" x="356" y="909">Sheu, Philip</text></g>
<g id="n-wangyingxu"><text class="t" x="48" y="935" style="font-size:43px">Wang, Yingxu</text></g>
<g id="n-pedrycz"><text class="t" x="356" y="943">Pedrycz, Witold</text></g>
<g id="n-patelshushma"><text class="t" x="60" y="956">Patel, Shushma</text></g>
<g id="n-hsu"><text class="t" x="153" y="960">Hsu, D. Frank</text></g>
<g id="n-zadeh"><text class="t" x="233" y="963" style="font-size:17.7px">Zadeh, Lotfi A.</text></g>
<g id="n-weiwei"><text class="t" x="126" y="970">Wei, Wei</text></g>
<g id="n-howard"><text class="t" x="198" y="976" style="font-size:12px">Howard, Newton</text></g>
<g id="n-chanchristine"><text class="t" x="313" y="976" style="font-size:11.5px">Chan, Christine</text></g>
<g id="n-beaufays"><text class="t" x="68" y="981">Beaufays, Francoise</text></g>
<g id="n-widrow"><text class="t" x="172" y="993" style="font-size:12px">Widrow, Bernard</text></g>
</g>

<g id="cluster-linfeng" class="K">
<circle cx="878" cy="10" r="4.5"/><circle cx="873" cy="28" r="4.5"/><circle cx="888" cy="20" r="4.5"/><circle cx="885" cy="40" r="4.5"/><circle cx="931" cy="15" r="4.5"/><circle cx="975" cy="29" r="4.5"/><circle cx="1023" cy="34" r="4.5"/><circle cx="1014" cy="55" r="4.5"/><circle cx="883" cy="69" r="6"/><circle cx="896" cy="67" r="7"/><circle cx="902" cy="83" r="5"/><circle cx="1023" cy="68" r="4.5"/><circle cx="1043" cy="61" r="5"/><circle cx="1010" cy="97" r="5"/><circle cx="954" cy="107" r="4"/>
<circle class="f" cx="917" cy="80" r="7" style="fill-opacity:.6"/><circle class="f" cx="923" cy="65" r="4"/><circle class="f" cx="937" cy="65" r="4"/><circle class="f" cx="940" cy="79" r="4"/><circle class="f" cx="912" cy="33" r="4"/><circle class="f" cx="1037" cy="82" r="5"/><circle class="f" cx="993" cy="91" r="5"/><circle class="f" cx="972" cy="101" r="4"/>
<g id="n-teng"><text class="t s" x="906" y="43">Teng, Lirong</text></g>
<g id="n-zhaonan"><text class="t s" x="876" y="57">Zhao, Nan</text></g>
<g id="n-dongyuan"><text class="t s" x="952" y="60">Dong, Yuan</text></g>
<g id="n-zhangyibo"><text class="t s" x="913" y="74">Zhang, Yibo</text></g>
<g id="n-linfeng"><text class="t" x="987" y="86" style="font-size:12.3px">Lin, Feng</text></g>
<g id="n-chenxin"><text class="t s" x="929" y="100">Chen, Xin</text></g>
</g>

<g id="cluster-liqiang" class="L">
<circle cx="909" cy="205" r="4.5"/><circle cx="898" cy="216" r="4.5"/><circle cx="895" cy="236" r="4.5"/><circle cx="907" cy="239" r="4.5"/><circle cx="908" cy="259" r="4.5"/><circle cx="922" cy="248" r="4.5"/><circle cx="939" cy="238" r="4.5"/><circle cx="946" cy="261" r="4.5"/><circle cx="960" cy="204" r="4.5"/><circle cx="987" cy="206" r="4.5"/><circle cx="955" cy="228" r="4.5"/><circle cx="978" cy="237" r="4.5"/><circle cx="973" cy="263" r="4.5"/><circle cx="936" cy="293" r="4.5"/><circle cx="958" cy="303" r="4.5"/><circle cx="981" cy="312" r="4.5"/><circle cx="997" cy="311" r="4.5"/><circle cx="932" cy="317" r="4.5"/><circle cx="949" cy="318" r="4.5"/><circle cx="1012" cy="323" r="4.5"/><circle cx="1029" cy="332" r="4.5"/><circle cx="1049" cy="320" r="4.5"/>
<circle class="f" cx="947" cy="279" r="4.5"/><circle class="f" cx="963" cy="278" r="4.5"/><circle class="f" cx="971" cy="298" r="4.5"/><circle class="f" cx="990" cy="298" r="4.5"/><circle class="f" cx="1034" cy="313" r="4.5"/><circle class="f" cx="1047" cy="296" r="4.5"/><circle class="f" cx="1065" cy="292" r="5"/><circle class="f" cx="1048" cy="266" r="5"/><circle class="f" cx="1031" cy="217" r="4.5"/><circle class="f" cx="1017" cy="248" r="4"/>
<g id="n-permin"><text class="t s" x="1121" y="202">Permin, Eike</text></g>
<g id="n-thombansen"><text class="t s" x="1040" y="214">Thombansen, Ulrich</text></g>
<g id="n-blum"><text class="t s" x="1013" y="228">Blum, Matthias</text></g>
<g id="n-loosen"><text class="t s" x="1165" y="228">Loosen, Peter</text></g>
<g id="n-bertelsmeier"><text class="t s" x="1103" y="242">Bertelsmeier, Felix</text></g>
<g id="n-brecher"><text class="t" x="1231" y="244">Brecher, Christian</text></g>
<g id="n-schmidt"><text class="t" x="994" y="255" style="font-size:11.5px">Schmidt, Robert</text></g>
<g id="n-kuz"><text class="t s" x="1209" y="257">Kuz, Sinem</text></g>
<g id="n-buetzler"><text class="t s" x="1101" y="269">Buetzler, Jennifer</text></g>
<g id="n-stemmler"><text class="t s" x="968" y="278">Stemmler, Sebastian</text></g>
<g id="n-poprawe"><text class="t s" x="1185" y="284">Poprawe, Reinhart</text></g>
<g id="n-liqiang"><text class="t" x="953" y="295" style="font-size:14px">Li, Qiang</text></g>
<g id="n-haag"><text class="t s" x="1072" y="293">Haag, Sebastian</text></g>
<g id="n-schlick"><text class="t s" x="1142" y="307">Schlick, Christopher</text></g>
<g id="n-schulz"><text class="t s" x="1016" y="309">Schulz, Wolfgang</text></g>
<g id="n-abel"><text class="t s" x="1207" y="321">Abel, Dirk</text></g>
<g id="n-schuh"><text class="t s" x="1092" y="323">Schuh, Guenther</text></g>
<g id="n-oezdemir"><text class="t s" x="1140" y="336">Oezdemir, Denis</text></g>
</g>

<g id="cluster-lixiang" class="Y">
<circle cx="1357" cy="294" r="4.5"/><circle cx="1337" cy="308" r="4.5"/><circle cx="1354" cy="310" r="4.5"/><circle cx="1338" cy="322" r="4.5"/><circle cx="1342" cy="331" r="4.5"/><circle cx="1333" cy="347" r="4.5"/><circle cx="1346" cy="343" r="4.5"/><circle cx="1348" cy="360" r="4.5"/><circle cx="1380" cy="349" r="4.5"/><circle cx="1397" cy="383" r="4.5"/><circle cx="1378" cy="406" r="4.5"/><circle cx="1331" cy="402" r="4.5"/><circle cx="1295" cy="394" r="4.5"/><circle cx="1314" cy="445" r="4.5"/><circle cx="1434" cy="413" r="4.5"/><circle cx="1437" cy="429" r="4.5"/><circle cx="1338" cy="449" r="4.5"/><circle cx="1372" cy="463" r="4.5"/><circle cx="1332" cy="468" r="5"/><circle cx="1351" cy="468" r="5"/><circle cx="1348" cy="487" r="5"/><circle cx="1370" cy="485" r="5"/>
<circle class="f" cx="1336" cy="363" r="4.5"/><circle class="f" cx="1337" cy="392" r="4.5"/><circle class="f" cx="1355" cy="392" r="4.5"/><circle class="f" cx="1289" cy="413" r="4.5"/><circle class="f" cx="1306" cy="410" r="6"/><circle class="f" cx="1301" cy="429" r="4.5"/><circle class="f" cx="1318" cy="432" r="4.5"/><circle class="f" cx="1359" cy="416" r="4.5"/><circle class="f" cx="1357" cy="431" r="4.5"/><circle class="f" cx="1409" cy="425" r="4.5"/><circle class="f" cx="1422" cy="438" r="4.5"/><circle class="f" cx="1385" cy="441" r="4.5"/>
<g id="n-ermengjoo"><text class="t s" x="1312" y="380">Er, Meng Joo</text></g>
<g id="n-zurada"><text class="t s" x="1294" y="425">Zurada, Jacek M.</text></g>
<g id="n-lixiang"><text class="t" x="1379" y="438" style="font-size:10.5px">Li, Xiang</text></g>
</g>

<g id="cluster-wangjtl" class="P">
<circle cx="900" cy="575" r="4.5"/><circle cx="909" cy="594" r="6"/><circle cx="932" cy="594" r="6"/><circle cx="912" cy="604" r="6"/><circle cx="940" cy="606" r="6"/><circle cx="928" cy="618" r="7"/><circle cx="839" cy="613" r="4.5"/><circle cx="846" cy="619" r="4.5"/><circle cx="822" cy="627" r="4.5"/><circle cx="824" cy="637" r="4.5"/><circle cx="841" cy="641" r="4.5"/><circle cx="854" cy="647" r="4.5"/><circle cx="858" cy="657" r="4.5"/><circle cx="869" cy="659" r="6"/><circle cx="879" cy="623" r="4.5"/><circle cx="896" cy="626" r="4.5"/><circle cx="914" cy="631" r="4.5"/><circle cx="874" cy="636" r="4.5"/><circle cx="892" cy="636" r="4.5"/><circle cx="912" cy="641" r="4.5"/><circle cx="876" cy="646" r="4.5"/><circle cx="894" cy="648" r="4.5"/><circle cx="936" cy="636" r="6"/><circle cx="938" cy="647" r="6"/><circle cx="919" cy="653" r="6"/><circle cx="887" cy="658" r="4.5"/><circle cx="906" cy="662" r="4.5"/><circle cx="927" cy="667" r="6"/><circle cx="942" cy="660" r="4.5"/><circle cx="964" cy="631" r="4.5"/><circle cx="978" cy="646" r="4.5"/><circle cx="996" cy="630" r="6"/><circle cx="1017" cy="624" r="4.5"/><circle cx="1034" cy="582" r="4.5"/><circle cx="1016" cy="657" r="6"/><circle cx="959" cy="659" r="4.5"/><circle cx="998" cy="680" r="4.5"/><circle cx="1011" cy="675" r="4.5"/><circle cx="1019" cy="687" r="4.5"/><circle cx="1034" cy="696" r="4.5"/><circle cx="993" cy="705" r="4.5"/><circle cx="877" cy="718" r="6"/><circle cx="924" cy="731" r="4.5"/><circle cx="982" cy="742" r="4.5"/><circle cx="1014" cy="753" r="4.5"/><circle cx="1043" cy="742" r="4.5"/><circle cx="1053" cy="761" r="4.5"/><circle cx="1043" cy="768" r="4.5"/><circle cx="1047" cy="786" r="4.5"/><circle cx="1066" cy="794" r="4.5"/><circle cx="1093" cy="807" r="4.5"/><circle cx="1083" cy="816" r="4.5"/><circle cx="1071" cy="822" r="4.5"/><circle cx="1084" cy="838" r="4.5"/><circle cx="1063" cy="851" r="4.5"/><circle cx="1035" cy="803" r="4.5"/><circle cx="989" cy="797" r="4.5"/><circle cx="962" cy="773" r="4.5"/><circle cx="927" cy="766" r="4.5"/><circle cx="884" cy="784" r="4.5"/><circle cx="876" cy="762" r="4.5"/><circle cx="856" cy="764" r="4.5"/><circle cx="841" cy="764" r="4.5"/><circle cx="833" cy="768" r="4.5"/><circle cx="843" cy="751" r="4.5"/><circle cx="853" cy="742" r="4.5"/><circle cx="842" cy="732" r="4.5"/><circle cx="831" cy="738" r="4.5"/><circle cx="850" cy="717" r="4.5"/><circle cx="833" cy="715" r="4.5"/><circle cx="821" cy="713" r="4.5"/><circle cx="811" cy="715" r="4.5"/><circle cx="807" cy="734" r="6"/><circle cx="818" cy="735" r="6"/><circle cx="816" cy="753" r="6"/><circle cx="845" cy="781" r="4.5"/><circle cx="862" cy="784" r="4.5"/><circle cx="838" cy="793" r="8"/><circle cx="831" cy="803" r="8"/><circle cx="854" cy="804" r="8"/><circle cx="848" cy="814" r="8"/><circle cx="873" cy="811" r="8"/><circle cx="839" cy="823" r="8"/><circle cx="857" cy="833" r="8"/><circle cx="868" cy="827" r="8"/><circle cx="891" cy="802" r="4.5"/><circle cx="913" cy="808" r="4.5"/><circle cx="894" cy="822" r="4.5"/><circle cx="882" cy="848" r="4.5"/><circle cx="858" cy="859" r="4.5"/><circle cx="848" cy="863" r="4.5"/><circle cx="962" cy="828" r="6"/><circle cx="1015" cy="828" r="6"/><circle cx="1033" cy="829" r="6"/><circle cx="937" cy="877" r="4.5"/><circle cx="955" cy="878" r="4.5"/><circle cx="993" cy="880" r="4.5"/>
<circle class="f" cx="953" cy="671" r="4.5"/><circle class="f" cx="982" cy="681" r="4.5"/><circle class="f" cx="842" cy="709" r="4.5"/><circle class="f" cx="923" cy="833" r="6"/><circle class="f" cx="906" cy="830" r="4.5"/><circle class="f" cx="1009" cy="849" r="4.5"/><circle class="f" cx="977" cy="875" r="4.5"/><circle class="f" cx="833" cy="662" r="4.5"/><circle class="f" cx="840" cy="666" r="4.5"/><circle class="f" cx="847" cy="677" r="4.5"/><circle class="f" cx="859" cy="675" r="4.5"/><circle class="f" cx="818" cy="695" r="4.5"/><circle class="f" cx="830" cy="693" r="4.5"/><circle class="f" cx="928" cy="688" r="4.5"/><circle class="f" cx="969" cy="707" r="4.5"/>
<circle cx="1117" cy="883" r="4.5"/><circle cx="1135" cy="843" r="4.5"/><circle cx="1150" cy="829" r="4.5"/><circle cx="1170" cy="844" r="4.5"/><circle cx="1157" cy="853" r="4.5"/><circle cx="1141" cy="867" r="4.5"/><circle cx="1162" cy="872" r="4.5"/>
<g id="n-wangjtl"><text class="t" x="793" y="702" style="font-size:47px">Wang, Jtl</text></g>
<g id="n-yanghm"><text class="t" x="1001" y="718" style="font-size:13px">Yang, Hm</text></g>
<g id="n-zhangjy"><text class="t" x="896" y="863" style="font-size:37px">Zhang, Jy</text></g>
</g>

<g id="cluster-millerwm" class="P">
<circle cx="1035" cy="529" r="4.5"/><circle cx="1058" cy="523" r="4.5"/><circle cx="1072" cy="532" r="4.5"/><circle cx="1087" cy="527" r="7.5"/><circle cx="1082" cy="545" r="4.5"/><circle cx="1099" cy="545" r="4.5"/><circle cx="1093" cy="562" r="4.5"/>
<circle class="f" cx="1053" cy="536" r="4.5"/><circle class="f" cx="1022" cy="541" r="5"/>
<g id="n-millerwm"><text class="t s" x="1023" y="550">Miller, Wm</text></g>
</g>

<g id="cluster-chenyb" class="P">
<circle cx="1053" cy="672" r="4.5"/><circle cx="1067" cy="667" r="4.5"/><circle cx="1084" cy="664" r="6"/><circle cx="1094" cy="659" r="4.5"/><circle cx="1061" cy="684" r="4.5"/><circle cx="1081" cy="682" r="4.5"/><circle cx="1095" cy="683" r="4.5"/><circle cx="1123" cy="719" r="4.5"/><circle cx="1107" cy="733" r="4.5"/><circle cx="1117" cy="741" r="4.5"/><circle cx="1097" cy="761" r="4.5"/><circle cx="1108" cy="759" r="4.5"/>
<circle class="f" cx="1110" cy="692" r="4.5"/>
<g id="n-chenyb"><text class="t" x="1070" y="713">Chen, Yb</text></g>
</g>

<g id="cluster-chenjie" class="P">
<circle cx="1138" cy="643" r="6"/><circle cx="1129" cy="654" r="4.5"/><circle cx="1148" cy="654" r="4.5"/><circle cx="1159" cy="650" r="4.5"/><circle cx="1173" cy="647" r="6"/><circle cx="1193" cy="655" r="6"/><circle cx="1200" cy="678" r="6"/><circle cx="1194" cy="698" r="10"/><circle cx="1210" cy="703" r="8"/><circle cx="1186" cy="710" r="4.5"/><circle cx="1204" cy="727" r="7.5"/><circle cx="1175" cy="733" r="4.5"/><circle cx="1192" cy="733" r="4.5"/><circle cx="1174" cy="757" r="4.5"/><circle cx="1189" cy="753" r="4.5"/>
<circle class="f" cx="1184" cy="667" r="4.5"/>
<circle cx="1252" cy="609" r="4.5"/><circle cx="1273" cy="613" r="4.5"/><circle cx="1257" cy="621" r="4.5"/><circle cx="1236" cy="624" r="4.5"/><circle cx="1297" cy="608" r="4.5"/><circle cx="1320" cy="611" r="4.5"/><circle cx="1342" cy="613" r="4.5"/><circle cx="1288" cy="627" r="7.5"/><circle cx="1312" cy="631" r="4.5"/><circle cx="1335" cy="634" r="4.5"/><circle cx="1253" cy="647" r="7"/><circle cx="1354" cy="645" r="4.5"/><circle cx="1377" cy="663" r="4.5"/><circle cx="1351" cy="672" r="4.5"/><circle cx="1288" cy="681" r="4.5"/><circle cx="1367" cy="687" r="4.5"/><circle cx="1333" cy="694" r="7"/><circle cx="1346" cy="715" r="4.5"/><circle cx="1313" cy="710" r="7"/><circle cx="1292" cy="719" r="7"/>
<g id="n-chenjie"><text class="t" x="1141" y="677" style="font-size:11px">Chen, Jie</text></g>
</g>

<g id="cluster-zhanglei" class="P">
<circle cx="684" cy="723" r="4.5"/><circle cx="702" cy="723" r="4.5"/><circle cx="685" cy="734" r="4.5"/><circle cx="707" cy="734" r="4.5"/><circle cx="671" cy="738" r="4.5"/><circle cx="645" cy="777" r="4.5"/><circle cx="639" cy="798" r="4.5"/><circle cx="623" cy="808" r="4.5"/><circle cx="603" cy="812" r="6"/><circle cx="589" cy="823" r="6"/><circle cx="578" cy="808" r="4.5"/><circle cx="570" cy="829" r="4.5"/><circle cx="584" cy="848" r="4.5"/><circle cx="654" cy="789" r="4.5"/><circle cx="664" cy="790" r="4.5"/><circle cx="694" cy="791" r="4.5"/><circle cx="652" cy="812" r="4.5"/><circle cx="665" cy="817" r="4.5"/><circle cx="688" cy="819" r="4.5"/><circle cx="681" cy="827" r="4.5"/><circle cx="666" cy="834" r="4.5"/><circle cx="691" cy="843" r="4.5"/><circle cx="708" cy="842" r="4.5"/><circle cx="763" cy="744" r="4.5"/>
<circle class="f" cx="658" cy="740" r="4.5"/><circle class="f" cx="645" cy="757" r="4.5"/><circle class="f" cx="655" cy="762" r="4.5"/><circle class="f" cx="666" cy="761" r="4.5"/>
<g id="n-zhanglei"><text class="t" x="650" y="758" style="font-size:12.8px">Zhang, Lei</text></g>
</g>

<g id="cluster-wangjian" class="P">
<circle cx="788" cy="880" r="4.5"/><circle cx="805" cy="896" r="4.5"/><circle cx="729" cy="905" r="4.5"/><circle cx="744" cy="918" r="4.5"/><circle cx="733" cy="932" r="4.5"/><circle cx="754" cy="944" r="4.5"/><circle cx="689" cy="936" r="4.5"/><circle cx="705" cy="962" r="4.5"/><circle cx="649" cy="956" r="4.5"/><circle cx="636" cy="939" r="4.5"/><circle cx="621" cy="949" r="4.5"/><circle cx="605" cy="948" r="4.5"/><circle cx="588" cy="955" r="4.5"/><circle cx="637" cy="1008" r="4.5"/><circle cx="671" cy="1023" r="4.5"/><circle cx="583" cy="1013" r="4.5"/><circle cx="627" cy="1037" r="4.5"/><circle cx="588" cy="1052" r="4.5"/><circle cx="617" cy="1060" r="4.5"/><circle cx="652" cy="1060" r="4.5"/><circle cx="562" cy="997" r="4.5"/><circle cx="562" cy="1066" r="4.5"/><circle cx="558" cy="985" r="4.5"/><circle cx="545" cy="998" r="4.5"/><circle cx="533" cy="1013" r="4.5"/><circle cx="519" cy="1017" r="4.5"/><circle cx="507" cy="1030" r="4.5"/><circle cx="512" cy="1050" r="4.5"/><circle cx="525" cy="1060" r="4.5"/>
<circle class="f" cx="587" cy="969" r="4.5"/><circle class="f" cx="576" cy="981" r="4.5"/>
<g id="n-wangjian"><text class="t s" x="581" y="985">Wang, Jian</text></g>
</g>

<g id="cluster-wangwl" class="P">
<circle cx="1015" cy="930" r="4.5"/><circle cx="1018" cy="944" r="4.5"/><circle cx="1048" cy="950" r="4.5"/><circle cx="1031" cy="958" r="4.5"/><circle cx="1080" cy="935" r="4.5"/><circle cx="1094" cy="912" r="4.5"/><circle cx="1108" cy="910" r="4.5"/><circle cx="1115" cy="885" r="4.5"/><circle cx="1122" cy="905" r="4.5"/><circle cx="1131" cy="941" r="4.5"/><circle cx="1098" cy="945" r="4.5"/><circle cx="1087" cy="960" r="4.5"/><circle cx="1107" cy="970" r="4.5"/><circle cx="1112" cy="950" r="4.5"/><circle cx="1084" cy="968" r="4.5"/>
<g id="n-wangwl"><text class="t s" x="1039" y="929">Wang, Wl</text></g>
</g>

<g id="cluster-kimmsh" class="P">
<circle cx="878" cy="978" r="7"/><circle cx="866" cy="1000" r="4.5"/><circle cx="869" cy="1020" r="4.5"/><circle cx="892" cy="1015" r="4.5"/><circle cx="910" cy="1011" r="4.5"/><circle cx="884" cy="1033" r="4.5"/><circle cx="869" cy="1042" r="4.5"/><circle cx="875" cy="1052" r="4.5"/><circle cx="910" cy="1040" r="4.5"/><circle cx="950" cy="1040" r="4.5"/><circle cx="975" cy="1062" r="4.5"/><circle cx="987" cy="1020" r="4.5"/><circle cx="962" cy="1074" r="4.5"/><circle cx="826" cy="1060" r="7"/><circle cx="846" cy="1060" r="4.5"/><circle cx="808" cy="1124" r="9"/><circle cx="826" cy="1134" r="6"/><circle cx="845" cy="1132" r="4.5"/><circle cx="860" cy="1137" r="4.5"/><circle cx="878" cy="1134" r="4.5"/><circle cx="853" cy="1155" r="4.5"/><circle cx="893" cy="1162" r="8"/><circle cx="912" cy="1160" r="4.5"/><circle cx="928" cy="1157" r="4.5"/><circle cx="853" cy="1183" r="9"/><circle cx="940" cy="1200" r="9"/><circle cx="952" cy="1182" r="4.5"/><circle cx="966" cy="1160" r="4.5"/><circle cx="972" cy="1180" r="4.5"/><circle cx="988" cy="1152" r="4.5"/>
<g id="n-handc"><text class="t s" x="884" y="993">Han, Dc</text></g>
<g id="n-kimmsh"><text class="t" x="818" y="1110" style="font-size:40px">Kim, Msh</text></g>
</g>

<g id="cluster-chenkz" class="P">
<circle cx="1109" cy="1039" r="4.5"/><circle cx="1165" cy="1027" r="4.5"/><circle cx="1120" cy="1088" r="4.5"/><circle cx="1213" cy="1080" r="4.5"/><circle cx="1200" cy="1090" r="4.5"/><circle cx="1261" cy="1085" r="7"/><circle cx="1287" cy="1110" r="7"/><circle cx="1245" cy="1122" r="7"/><circle cx="1275" cy="1137" r="4.5"/><circle cx="1167" cy="1118" r="7"/><circle cx="1121" cy="1117" r="4.5"/><circle cx="1131" cy="1134" r="7"/><circle cx="1106" cy="1135" r="4.5"/><circle cx="1113" cy="1155" r="4.5"/><circle cx="1146" cy="1162" r="7"/><circle cx="1110" cy="1170" r="4.5"/><circle cx="1208" cy="1137" r="8"/><circle cx="1232" cy="1167" r="7"/><circle cx="1135" cy="1187" r="4.5"/><circle cx="1136" cy="1203" r="4.5"/><circle cx="1155" cy="1212" r="4.5"/><circle cx="1168" cy="1212" r="4.5"/><circle cx="1192" cy="1215" r="4.5"/>
<circle class="f" cx="1215" cy="1102" r="4.5"/><circle class="f" cx="1220" cy="1100" r="8" style="fill-opacity:.5"/>
<g id="n-chenkz"><text class="t s" x="1140" y="1075">Chen, Kz</text></g>
</g>

<g id="cluster-bassam" class="K">
<circle cx="1369" cy="838" r="4.5"/><circle cx="1386" cy="843" r="4.5"/><circle cx="1357" cy="853" r="4.5"/><circle cx="1404" cy="851" r="4.5"/><circle cx="1393" cy="861" r="4.5"/><circle cx="1422" cy="857" r="4.5"/><circle cx="1426" cy="870" r="4.5"/><circle cx="1322" cy="877" r="4.5"/><circle cx="1442" cy="884" r="4.5"/><circle cx="1403" cy="891" r="4.5"/><circle cx="1454" cy="899" r="4.5"/><circle cx="1414" cy="913" r="4.5"/><circle cx="1342" cy="928" r="6"/><circle cx="1332" cy="934" r="7"/><circle cx="1353" cy="939" r="4.5"/><circle cx="1425" cy="947" r="4.5"/><circle cx="1336" cy="954" r="4.5"/><circle cx="1377" cy="983" r="4.5"/><circle cx="1362" cy="989" r="4.5"/><circle cx="1385" cy="995" r="4.5"/><circle cx="1373" cy="999" r="4.5"/><circle cx="1405" cy="999" r="4.5"/>
<circle class="f" cx="1377" cy="873" r="4.5"/><circle class="f" cx="1337" cy="884" r="4.5"/><circle class="f" cx="1321" cy="901" r="6"/><circle class="f" cx="1327" cy="917" r="7" style="fill-opacity:.6"/><circle class="f" cx="1367" cy="953" r="4.5"/><circle class="f" cx="1347" cy="963" r="4.5"/><circle class="f" cx="1358" cy="974" r="4.5"/>
<g id="n-santoyo"><text class="t s" x="1335" y="869">Santoyo, E.</text></g>
<g id="n-hernandez"><text class="t s" x="1299" y="895">Hernandez, J. A.</text></g>
<g id="n-bassam"><text class="t" x="1331" y="910" style="font-size:16px">Bassam, A.</text></g>
<g id="n-flota"><text class="t s" x="1352" y="968">Flota-banuelos, Manuel</text></g>
</g>

<g id="cluster-kisi" class="M">
<circle cx="438" cy="1147" r="11"/><circle cx="486" cy="1170" r="7"/><circle cx="508" cy="1166" r="7"/><circle cx="497" cy="1178" r="6"/><circle cx="519" cy="1176" r="4.5"/><circle cx="548" cy="1176" r="4.5"/><circle cx="560" cy="1170" r="4.5"/><circle cx="571" cy="1163" r="4.5"/><circle cx="590" cy="1158" r="4.5"/><circle cx="614" cy="1163" r="4.5"/><circle cx="600" cy="1188" r="4.5"/><circle cx="614" cy="1193" r="4.5"/><circle cx="634" cy="1198" r="4.5"/><circle cx="615" cy="1210" r="4.5"/><circle cx="627" cy="1228" r="4.5"/><circle cx="648" cy="1232" r="4.5"/><circle cx="656" cy="1212" r="4.5"/><circle cx="642" cy="1248" r="4.5"/><circle cx="621" cy="1244" r="4.5"/><circle cx="580" cy="1242" r="4.5"/><circle cx="601" cy="1250" r="4.5"/><circle cx="585" cy="1268" r="6"/><circle cx="551" cy="1275" r="7"/><circle cx="563" cy="1290" r="4.5"/><circle cx="566" cy="1311" r="6"/><circle cx="582" cy="1305" r="6"/><circle cx="644" cy="1270" r="8"/><circle cx="455" cy="1240" r="4.5"/><circle cx="460" cy="1253" r="4.5"/><circle cx="476" cy="1204" r="4.5"/><circle cx="495" cy="1215" r="6"/><circle cx="510" cy="1220" r="4.5"/><circle cx="518" cy="1213" r="4.5"/><circle cx="536" cy="1219" r="4.5"/><circle cx="551" cy="1222" r="4.5"/><circle cx="553" cy="1234" r="4.5"/><circle cx="545" cy="1238" r="4.5"/><circle cx="521" cy="1238" r="4.5"/><circle cx="505" cy="1233" r="4.5"/><circle cx="490" cy="1238" r="4.5"/><circle cx="468" cy="1230" r="4.5"/>
<circle class="f" cx="632" cy="1148" r="8" style="fill-opacity:.45"/><circle class="f" cx="634" cy="1185" r="4.5"/><circle class="f" cx="599" cy="1238" r="10" style="fill-opacity:.45"/><circle class="f" cx="448" cy="1219" r="18" style="fill-opacity:.4"/>
<g id="n-nourani"><text class="t s" x="600" y="1152">Nourani, Vahid</text></g>
<g id="n-kisi"><text class="t s" x="424" y="1208">Kisi, Ozgur</text></g>
<g id="n-moghaddam"><text class="t s" x="495" y="1256">Moghaddam, Asghar Asghari</text></g>
</g>

<g id="cluster-shamshirband" class="K">
<circle cx="864" cy="1286" r="4.5"/><circle cx="860" cy="1310" r="4.5"/><circle cx="800" cy="1324" r="7"/><circle cx="786" cy="1328" r="7"/><circle cx="842" cy="1330" r="4.5"/><circle cx="823" cy="1341" r="7"/><circle cx="785" cy="1345" r="4.5"/><circle cx="767" cy="1354" r="4.5"/><circle cx="738" cy="1336" r="4.5"/><circle cx="738" cy="1351" r="4.5"/><circle cx="745" cy="1366" r="4.5"/><circle cx="767" cy="1368" r="4.5"/><circle cx="790" cy="1367" r="6"/><circle cx="827" cy="1377" r="7"/><circle cx="803" cy="1388" r="6"/><circle cx="768" cy="1382" r="6"/><circle cx="888" cy="1326" r="4.5"/><circle cx="909" cy="1322" r="4.5"/><circle cx="924" cy="1328" r="4.5"/><circle cx="941" cy="1327" r="4.5"/><circle cx="948" cy="1345" r="4.5"/><circle cx="932" cy="1358" r="4.5"/><circle cx="919" cy="1369" r="4.5"/><circle cx="947" cy="1365" r="4.5"/><circle cx="935" cy="1379" r="4.5"/><circle cx="906" cy="1378" r="4.5"/><circle cx="888" cy="1371" r="4.5"/>
<circle class="f" cx="817" cy="1322" r="9" style="fill-opacity:.5"/><circle class="f" cx="808" cy="1341" r="7" style="fill-opacity:.5"/>
<g id="n-shamshirband"><text class="t" x="742" y="1309" style="font-size:20.5px">Shamshirband, Shahaboddin</text></g>
<g id="n-saybani"><text class="t s" x="881" y="1322">Saybani, Mahmoud Reza</text></g>
<g id="n-omid"><text class="t s" x="762" y="1347">Omid, Mahmoud</text></g>
</g>

<g id="legend">
<rect x="10" y="1036" width="377" height="372" fill="#fff" stroke="#444" stroke-width="1"/>
<text class="lg lb" x="27" y="1071">#Citations</text>
<text class="lg lb" x="183" y="1071">#Joint Publications</text>
<circle cx="46" cy="1110" r="20" fill="#fff" stroke="#222" stroke-width="1.3"/>
<circle cx="46" cy="1151" r="9" fill="#fff" stroke="#222" stroke-width="1.3"/>
<circle cx="46" cy="1176" r="4" fill="#fff" stroke="#222" stroke-width="1.2"/>
<text class="lg ln" x="84" y="1118">268</text>
<text class="lg ln" x="84" y="1158">93</text>
<text class="lg ln" x="84" y="1181">1</text>
<line x1="183" y1="1096" x2="225" y2="1096" stroke="#111" stroke-width="4"/>
<line x1="183" y1="1118" x2="225" y2="1118" stroke="#111" stroke-width="2"/>
<line x1="183" y1="1140" x2="225" y2="1140" stroke="#111" stroke-width="1"/>
<text class="lg ln" x="242" y="1101">8</text>
<text class="lg ln" x="242" y="1123">4</text>
<text class="lg ln" x="242" y="1145">1</text>
<text class="lg lb" x="27" y="1263">#Co-Authors</text>
<text class="lg" x="28" y="1311" style="font-size:43px">TEXT</text>
<text class="lg ln" x="166" y="1304">58</text>
<text class="lg" x="66" y="1338" style="font-size:11px">TEXT</text>
<text class="lg ln" x="166" y="1341">20</text>
<text class="lg ln" x="166" y="1380">1</text>
</g>
</svg>
